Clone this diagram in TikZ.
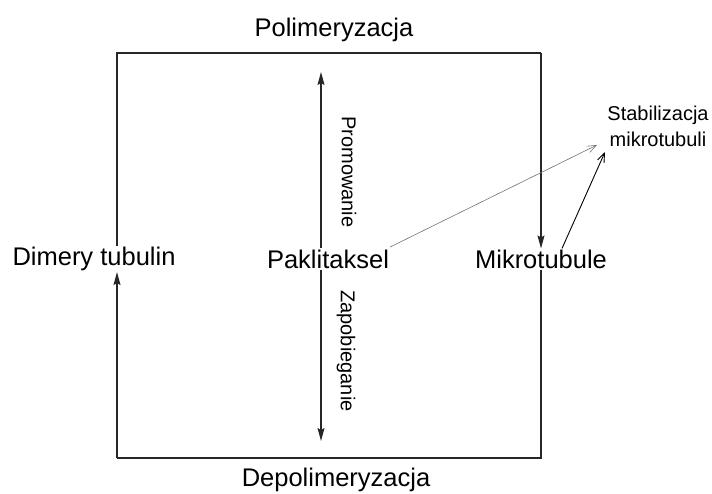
\documentclass[tikz,border=0pt]{standalone}
\usepackage{fontspec}
\setmainfont{Liberation Sans}
\usetikzlibrary{arrows.meta}
\begin{document}
\begin{tikzpicture}[x=1pt,y=-1pt,
  lbl/.style={font=\fontsize{25.5}{30}\selectfont, inner sep=1pt},
  small/.style={font=\fontsize{20}{26}\selectfont, inner sep=1pt, align=center},
  main/.style={draw=black!85, line width=1.1pt},
  tip/.style={-{Stealth[length=13pt,width=7pt,inset=2pt]}},
  thin/.style={draw=black!55, line width=0.6pt, -{Straight Barb[length=9pt,width=7pt]}},
  med/.style={draw=black, line width=0.9pt, -{Straight Barb[length=9pt,width=7pt]}}]
\useasboundingbox (0,0) rectangle (712,494);
\node[lbl] (pol) at (334,30) {Polimeryzacja};
\node[lbl] (depol) at (336,480) {Depolimeryzacja};
\node[lbl] (dim) at (94,259) {Dimery tubulin};
\node[lbl] (pak) at (328,259) {Paklitaksel};
\node[lbl] (mik) at (541,259) {Mikrotubule};
\node[small] (stab) at (658,126) {Stabilizacja\\mikrotubuli};
\node[small, rotate=-90] (prom) at (349,172) {Promowanie};
\node[small, rotate=-90] (zap) at (346,351) {Zapobieganie};
\coordinate (tl) at (117,53);
\coordinate (tr) at (541,53);
\coordinate (bl) at (117,458);
\coordinate (br) at (541,458);
\coordinate (up) at (321,72);
\coordinate (dn) at (321,441);
\coordinate (stabA) at (597,145);
\coordinate (stabB) at (605,152);
\draw[main] (dim.north -| tl) -- (tl) -- (tr);
\draw[main, tip] (tr) -- (mik.north -| tr);
\draw[main] (mik.south -| br) -- (br) -- (bl);
\draw[main, tip] (bl) -- (dim.south -| bl);
\draw[main, tip] (pak.north -| up) -- (up);
\draw[main, tip] (pak.south -| dn) -- (dn);
\draw[thin] (pak.east) ++(0,-12) -- (stabA);
\draw[med] (mik.north) ++(21,0) -- (stabB);
\end{tikzpicture}
\end{document}
